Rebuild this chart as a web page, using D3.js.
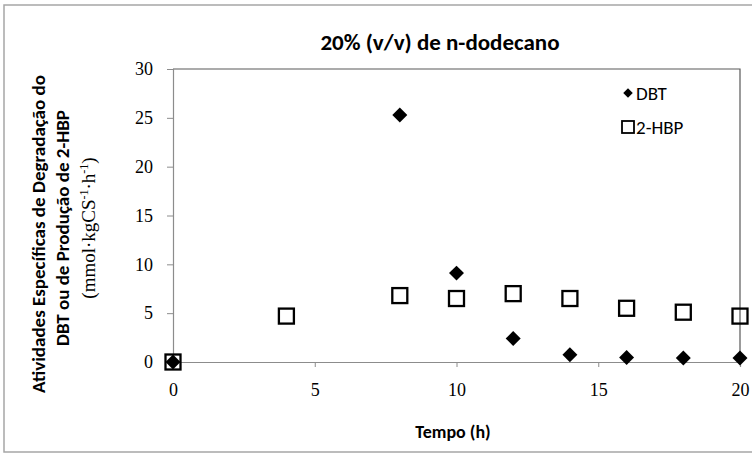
<!DOCTYPE html>
<html>
<head>
<meta charset="utf-8">
<script src="https://cdn.jsdelivr.net/npm/d3@7"></script>
<style>
  html, body { margin: 0; padding: 0; background: #fff; }
  svg { display: block; }
</style>
</head>
<body>
<svg id="chart" width="752" height="454"></svg>
<script>
'use strict';

// Data.
var hours = [0, 4, 8, 10, 12, 14, 16, 18, 20];
var dbtHours = [0, 8, 10, 12, 14, 16, 18, 20];
var dbtValues = [0, 25.3, 9.1, 2.4, 0.75, 0.45, 0.4, 0.4];
var hbpValues = [0, 4.7, 6.8, 6.5, 7.0, 6.5, 5.5, 5.1, 4.7];
var xTicks = [0, 5, 10, 15, 20];
var yTicks = [0, 5, 10, 15, 20, 25, 30];
var seriesNames = ['DBT', '2-HBP'];

var titleText = '20% (v/v) de n-dodecano';
var xTitle = 'Tempo (h)';
var yTitleLines = [
  'Atividades Específicas de Degradação do',
  'DBT ou de Produção de 2-HBP'
];

var svg = d3.select('#chart'),
    sansFont = 'Carlito, Calibri, "Open Sans", sans-serif',
    serifFont = '"Liberation Serif", "DejaVu Serif", serif',
    plot = { left: 173, right: 740, top: 69, bottom: 362 };

/**
 * Chart frame: outer border with the plot-area border inside it.
 */
svg.append('rect')
  .attr('x', 4).attr('y', 5)
  .attr('width', 760).attr('height', 447)
  .attr('fill', '#fff')
  .attr('stroke', '#a6a6a6')
  .attr('stroke-width', 1.5);

var x = d3.scaleLinear().domain([0, 20]).range([plot.left, plot.right]),
    y = d3.scaleLinear().domain([0, 30]).range([plot.bottom, plot.top]);

// top and right border of the plot area
svg.append('path')
  .attr('d', 'M' + plot.left + ',' + plot.top + 'H' + plot.right + 'V' + plot.bottom)
  .attr('fill', 'none')
  .attr('stroke', '#595959')
  .attr('stroke-width', 1.2);

var xAxis = svg.append('g')
  .attr('transform', 'translate(0,' + plot.bottom + ')')
  .call(d3.axisBottom(x).tickValues(xTicks).tickSize(5).tickPadding(16));

var yAxis = svg.append('g')
  .attr('transform', 'translate(' + plot.left + ',0)')
  .call(d3.axisLeft(y).tickValues(yTicks).tickSize(6).tickPadding(12));

[xAxis, yAxis].forEach(function(axis) {
  axis.select('.domain').attr('stroke', '#8c8c8c').attr('stroke-width', 1.2);
  axis.selectAll('.tick line').attr('stroke', '#8c8c8c');
  axis.selectAll('.tick text')
    .attr('fill', '#000')
    .style('font-family', serifFont)
    .style('font-size', '18px');
});
yAxis.selectAll('.tick text').attr('x', -20);

/**
 * Markers: filled diamonds for DBT, open squares for 2-HBP.
 * A diamond is a square turned by 45 degrees.
 */
var diamond = d3.symbol().type(d3.symbolSquare).size(112);

svg.append('g').selectAll('rect')
  .data(hours.map(function(h, i) { return [h, hbpValues[i]]; }))
  .join('rect')
  .attr('x', function(d) { return x(d[0]) - 7.5; })
  .attr('y', function(d) { return y(d[1]) - 7.5; })
  .attr('width', 15)
  .attr('height', 15)
  .attr('fill', 'none')
  .attr('stroke', '#000')
  .attr('stroke-width', 2.3);

svg.append('g').selectAll('path')
  .data(dbtHours.map(function(h, i) { return [h, dbtValues[i]]; }))
  .join('path')
  .attr('d', diamond)
  .attr('transform', function(d) {
    return 'translate(' + x(d[0]) + ',' + y(d[1]) + ') rotate(45)';
  })
  .attr('fill', '#000');

/**
 * Legend.
 */
var legend = svg.append('g')
  .attr('transform', 'translate(628,93)')
  .style('font-family', sansFont)
  .style('font-size', '19px');

legend.append('path')
  .attr('d', d3.symbol().type(d3.symbolSquare).size(45))
  .attr('transform', 'rotate(45)')
  .attr('fill', '#000');
legend.append('rect')
  .attr('x', -6).attr('y', 28)
  .attr('width', 12).attr('height', 12)
  .attr('fill', 'none')
  .attr('stroke', '#000')
  .attr('stroke-width', 1.8);

legend.selectAll('text')
  .data(seriesNames)
  .join('text')
  .attr('x', 8)
  .attr('y', function(d, i) { return i * 34 + 7; })
  .text(function(d) { return d; });

/**
 * Titles.
 */
svg.append('text')
  .attr('x', 440).attr('y', 50)
  .attr('text-anchor', 'middle')
  .style('font-family', sansFont)
  .style('font-size', '23px')
  .style('font-weight', 'bold')
  .text(titleText);

svg.append('text')
  .attr('x', 453).attr('y', 438)
  .attr('text-anchor', 'middle')
  .style('font-family', sansFont)
  .style('font-size', '18px')
  .style('font-weight', 'bold')
  .text(xTitle);

var yTitle = svg.append('g')
  .attr('transform', 'translate(0,228) rotate(-90)');

yTitle.selectAll('text.line')
  .data(yTitleLines)
  .join('text')
  .attr('class', 'line')
  .attr('x', function(d, i) { return i ? 0 : -6; })
  .attr('y', function(d, i) { return 45 + i * 24; })
  .attr('text-anchor', 'middle')
  .style('font-family', sansFont)
  .style('font-size', '19px')
  .style('font-weight', 'bold')
  .text(function(d) { return d; });

// unit line, set in the serif face with superscripts
var unit = yTitle.append('text')
  .attr('x', 0).attr('y', 95)
  .attr('text-anchor', 'middle')
  .style('font-family', serifFont)
  .style('font-size', '19px');
unit.append('tspan').text('(mmol·kgCS');
unit.append('tspan').attr('dy', -7).style('font-size', '12px').text('-1');
unit.append('tspan').attr('dy', 7).text('·h');
unit.append('tspan').attr('dy', -7).style('font-size', '12px').text('-1');
unit.append('tspan').attr('dy', 7).text(')');
</script>
</body>
</html>
